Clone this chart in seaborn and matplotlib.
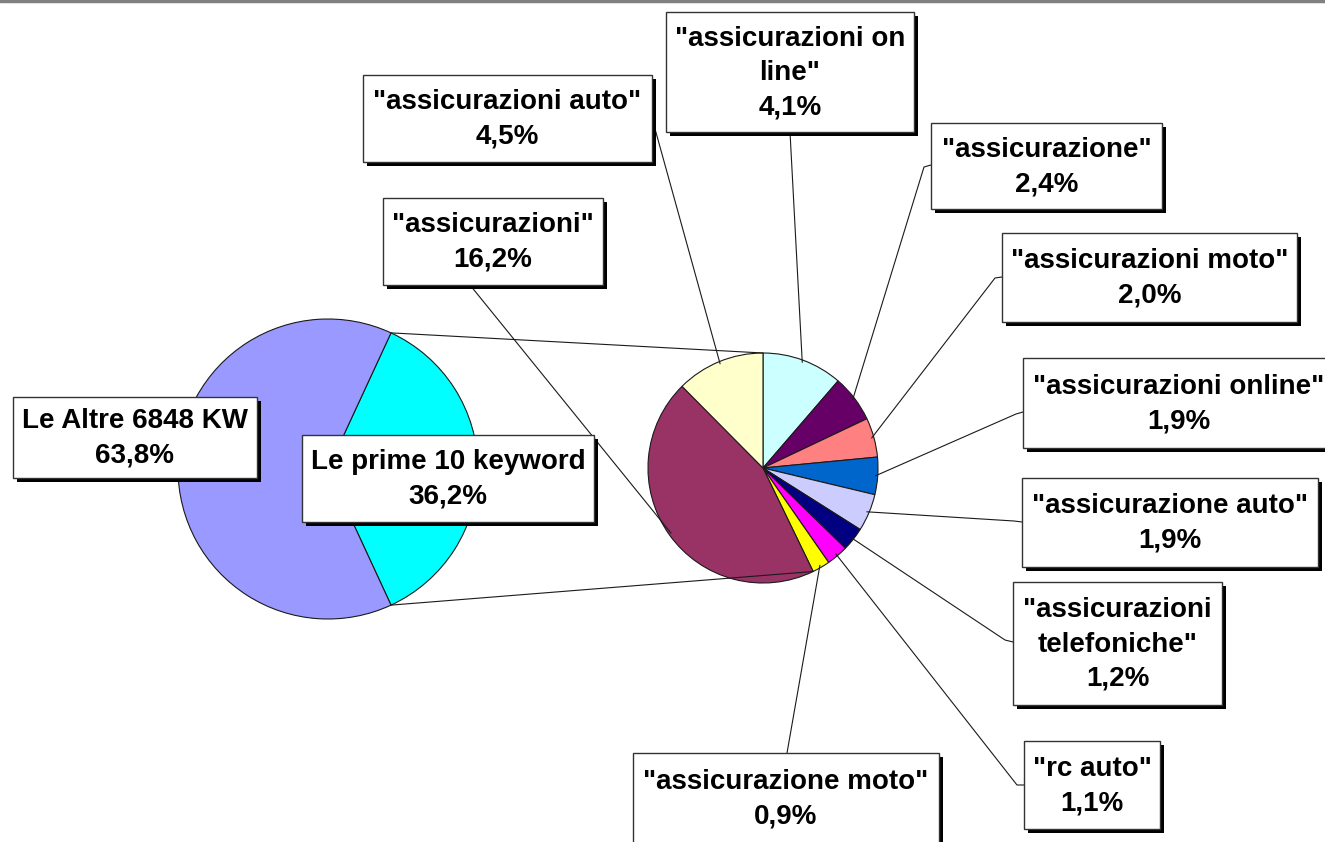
import numpy as np
import matplotlib
matplotlib.use("Agg")
import matplotlib.pyplot as plt
from matplotlib.patches import Rectangle
import seaborn as sns

# ---------------- data ----------------
main_labels = ["Le Altre 6848 KW", "Le prime 10 keyword"]
main_values = [63.8, 36.2]
main_colors = ["#9999FF", "#00FFFF"]

sub_labels = ['"assicurazioni on\nline"', '"assicurazione"', '"assicurazioni moto"',
              '"assicurazioni online"', '"assicurazione auto"',
              '"assicurazioni\ntelefoniche"', '"rc auto"', '"assicurazione moto"',
              '"assicurazioni"', '"assicurazioni auto"']
sub_values = [4.1, 2.4, 2.0, 1.9, 1.9, 1.2, 1.1, 0.9, 16.2, 4.5]
sub_colors = ["#CCFFFF", "#660066", "#FF8080", "#0066CC", "#CCCCFF",
              "#000080", "#FF00FF", "#FFFF00", "#993366", "#FFFFCC"]

# ---------------- layout (pixel coords, y downwards) ----------------
W, H = 1325, 842
main_center, main_r = (328, 469), 150
sub_center, sub_r = (763, 468), 115

# label boxes: (x0, y0, x1, y1)
sub_boxes = [(666, 12, 914, 132), (931, 123, 1162, 209), (1002, 233, 1297, 322),
             (1023, 358, 1335, 448), (1022, 478, 1318, 567), (1013, 582, 1222, 705),
             (1024, 741, 1160, 829), (633, 753, 939, 843), (383, 198, 603, 285),
             (363, 75, 652, 162)]
# leader anchors on the box, and elbow point next to it
sub_anchor = [(790, 132), (931, 165), (1002, 277), (1023, 412), (1022, 522),
              (1013, 642), (1024, 785), (787, 753), (470, 285), (652, 118)]
sub_elbow = [(790, 132), (924, 167), (995, 278), (1016, 414), (1014, 521),
             (1005, 640), (1017, 785), (787, 753), (470, 285), (652, 118)]
main_boxes = [(13, 397, 257, 478), (302, 435, 594, 522)]

sns.set_theme(style="white")
plt.rcParams["font.family"] = ["Liberation Sans", "DejaVu Sans"]

fig = plt.figure(figsize=(W / 100, H / 100), dpi=100)
ax = fig.add_axes([0, 0, 1, 1])

pal_main = sns.color_palette(main_colors)
pal_sub = sns.color_palette(sub_colors)

edge = "#1a1a1a"
# main pie: cyan slice centred on the right; y axis inverted -> screen clockwise = data ccw
cyan_half = main_values[1] / 100 * 360 / 2
ax.pie(main_values[::-1], colors=pal_main[::-1], center=main_center, radius=main_r,
       startangle=-cyan_half, counterclock=True,
       wedgeprops=dict(edgecolor=edge, linewidth=0.8), frame=True)

# sub pie: start at top, clockwise on screen
ax.pie(sub_values, colors=pal_sub, center=sub_center, radius=sub_r,
       startangle=-90, counterclock=True,
       wedgeprops=dict(edgecolor=edge, linewidth=0.8), frame=True)

ax.set_xlim(0, W)
ax.set_ylim(H, 0)
ax.set_aspect("auto")
ax.axis("off")

# connector lines between the two pies
t_top = np.deg2rad(-cyan_half)
t_bot = np.deg2rad(cyan_half)
p_top = (main_center[0] + main_r * np.cos(t_top), main_center[1] + main_r * np.sin(t_top))
p_bot = (main_center[0] + main_r * np.cos(t_bot), main_center[1] + main_r * np.sin(t_bot))
tot = sum(sub_values)
sub_top = (sub_center[0], sub_center[1] - sub_r)
end_ang = -90 + sum(sub_values[:8]) / tot * 360
sub_bot = (sub_center[0] + sub_r * np.cos(np.deg2rad(end_ang)),
           sub_center[1] + sub_r * np.sin(np.deg2rad(end_ang)))
ax.plot([p_top[0], sub_top[0]], [p_top[1], sub_top[1]], color=edge, lw=0.8, zorder=1)
ax.plot([p_bot[0], sub_bot[0]], [p_bot[1], sub_bot[1]], color=edge, lw=0.8, zorder=1)

# leader lines from each slice mid-point to its label
cum = -90
for i, v in enumerate(sub_values):
    a0 = cum
    a1 = cum + v / tot * 360
    cum = a1
    mid = np.deg2rad((a0 + a1) / 2)
    px = sub_center[0] + sub_r * 0.98 * np.cos(mid)
    py = sub_center[1] + sub_r * 0.98 * np.sin(mid)
    xs = [px, sub_elbow[i][0], sub_anchor[i][0]]
    ys = [py, sub_elbow[i][1], sub_anchor[i][1]]
    ax.plot(xs, ys, color=edge, lw=0.8, zorder=2)

def fmt(v):
    return f"{v:.1f}".replace(".", ",") + "%"

def draw_box(box, text):
    x0, y0, x1, y1 = box
    ax.add_patch(Rectangle((x0 + 4, y0 + 4), x1 - x0, y1 - y0, facecolor="black",
                           edgecolor="none", zorder=5))
    ax.add_patch(Rectangle((x0, y0), x1 - x0, y1 - y0, facecolor="white",
                           edgecolor="#333333", lw=1.0, zorder=6))
    ax.text((x0 + x1) / 2, (y0 + y1) / 2 + 1, text, ha="center", va="center",
            fontsize=20, fontweight="bold", color="black", linespacing=1.42, zorder=7)

for i, lab in enumerate(sub_labels):
    draw_box(sub_boxes[i], f"{lab}\n{fmt(sub_values[i])}")
for i, lab in enumerate(main_labels):
    draw_box(main_boxes[i], f"{lab}\n{fmt(main_values[i])}")

# top grey border
fig.add_artist(plt.Line2D([0, 1], [0.9985, 0.9985], transform=fig.transFigure,
                          color="#808080", lw=2.5))

fig.savefig("out.png", dpi=100)
